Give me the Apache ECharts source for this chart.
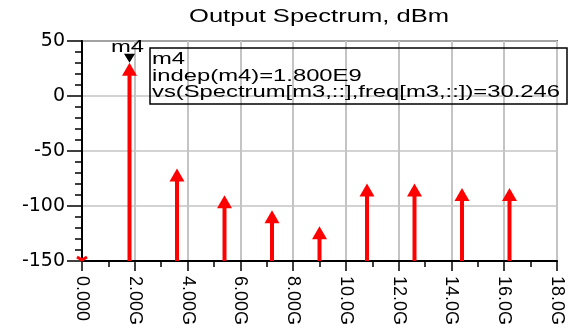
<!DOCTYPE html>
<html>
<head>
<meta charset="utf-8">
<script src="https://cdn.jsdelivr.net/npm/echarts@6/dist/echarts.min.js"></script>
<style>html,body{margin:0;padding:0;background:#fff}#c{width:569px;height:330px}</style>
</head>
<body>
<div id="c"></div>
<script>
// ---- data ----
const freqGHz = [0, 1.8, 3.6, 5.4, 7.2, 9.0, 10.8, 12.6, 14.4, 16.2];
const powerDbm = [-200, 30.246, -66, -90.3, -103.9, -118.5, -79.6, -79.6, -83.6, -83.6];
const xTickLabels = ['0.000','2.00G','4.00G','6.00G','8.00G','10.0G','12.0G','14.0G','16.0G','18.0G'];
const yTickValues = [-150, -100, -50, 0, 50];
const markerName = 'm4';
const markerIndex = 1;
const titleText = 'Output Spectrum, dBm';
const annotationLines = ['m4', 'indep(m4)=1.800E9', 'vs(Spectrum[m3,::],freq[m3,::])=30.246'];

const FONT = '"Liberation Sans", Arial, sans-serif';
const SX = 1.4;
const yMin = yTickValues[0], yMax = yTickValues[yTickValues.length - 1];

const chart = echarts.init(document.getElementById('c'));
const data = freqGHz.map((f, i) => [f, powerDbm[i], i]);

chart.setOption({
  animation: false,
  grid: {left: 82, right: 12, top: 41, bottom: 69, show: true, borderColor: '#000', borderWidth: 1.5, backgroundColor: 'transparent'},
  xAxis: {
    type: 'value', min: 0, max: 18, interval: 2,
    axisLine: {show: true, onZero: false, lineStyle: {color: '#000', width: 2}},
    axisTick: {show: true, length: 10, lineStyle: {color: '#000', width: 1.5}},
    minorTick: {show: true, splitNumber: 2, length: 6, lineStyle: {color: '#000', width: 1.5}},
    splitLine: {show: true, lineStyle: {color: '#c4c4c4', width: 2}},
    axisLabel: {
      rotate: -90, margin: 15, color: '#000', fontSize: 18, fontFamily: FONT,
      formatter: v => xTickLabels[Math.round(v / 2)]
    }
  },
  yAxis: {
    type: 'value', min: yMin, max: yMax, interval: 50,
    axisLine: {show: true, onZero: false, lineStyle: {color: '#000', width: 2}},
    axisTick: {show: true, length: 15, lineStyle: {color: '#000', width: 1.5}},
    minorTick: {show: true, splitNumber: 5, length: 7, lineStyle: {color: '#000', width: 1.5}},
    splitLine: {show: true, lineStyle: {color: '#c4c4c4', width: 1.5}},
    axisLabel: {margin: 17, color: '#000', fontSize: 19, fontFamily: '"DejaVu Sans", sans-serif'}
  },
  graphic: [
    {type: 'text', x: 319, y: 17, scaleX: 1.42, z: 10,
     style: {text: titleText, fill: '#000', font: '18px ' + FONT, align: 'center', verticalAlign: 'middle', textAlign: 'center', textVerticalAlign: 'middle'}},
    {type: 'rect', shape: {x: 150, y: 48, width: 417, height: 56}, z: 10,
     style: {fill: 'none', stroke: '#000', lineWidth: 1.5}},
    {type: 'text', x: 152, y: 59, scaleX: SX, z: 10,
     style: {text: annotationLines[0], fill: '#000', font: '17px ' + FONT, align: 'left', verticalAlign: 'middle', textAlign: 'left', textVerticalAlign: 'middle'}},
    {type: 'text', x: 152, y: 76, scaleX: SX, z: 10,
     style: {text: annotationLines[1], fill: '#000', font: '17px ' + FONT, align: 'left', verticalAlign: 'middle', textAlign: 'left', textVerticalAlign: 'middle'}},
    {type: 'text', x: 152, y: 92, scaleX: SX, z: 10,
     style: {text: annotationLines[2], fill: '#000', font: '17px ' + FONT, align: 'left', verticalAlign: 'middle', textAlign: 'left', textVerticalAlign: 'middle'}}
  ],
  series: [{
    type: 'custom',
    clip: false,
    data: data,
    encode: {x: 0, y: 1},
    renderItem: function (params, api) {
      const x = api.value(0), v = api.value(1), idx = api.value(2);
      const base = api.coord([x, yMin]);
      const children = [];
      if (v < yMin) {
        children.push({type: 'polyline', shape: {points: [[base[0] - 5, base[1] - 4], [base[0], base[1] - 1], [base[0] + 5, base[1] - 4]]},
          style: {stroke: '#ff0000', lineWidth: 3, fill: 'none'}});
        return {type: 'group', children: children};
      }
      const tip = api.coord([x, v]);
      const headH = 13, headW = 7.5;
      children.push({type: 'line', shape: {x1: base[0], y1: base[1], x2: tip[0], y2: tip[1] + headH - 1},
        style: {stroke: '#ff0000', lineWidth: 4}});
      children.push({type: 'polygon', shape: {points: [[tip[0] - headW, tip[1] + headH], [tip[0], tip[1]], [tip[0] + headW, tip[1] + headH]]},
        style: {fill: '#ff0000'}});
      if (idx === markerIndex) {
        children.push({type: 'polygon', shape: {points: [[tip[0] - 5.5, tip[1] - 9], [tip[0] + 5.5, tip[1] - 9], [tip[0], tip[1]]]},
          style: {fill: '#000'}});
        children.push({type: 'text', x: tip[0] - 2, y: tip[1] - 15, scaleX: SX,
          style: {text: markerName, fill: '#000', font: '17px ' + FONT, align: 'center', verticalAlign: 'middle', textAlign: 'center', textVerticalAlign: 'middle'}});
      }
      return {type: 'group', children: children};
    }
  }]
});
</script>
</body>
</html>
